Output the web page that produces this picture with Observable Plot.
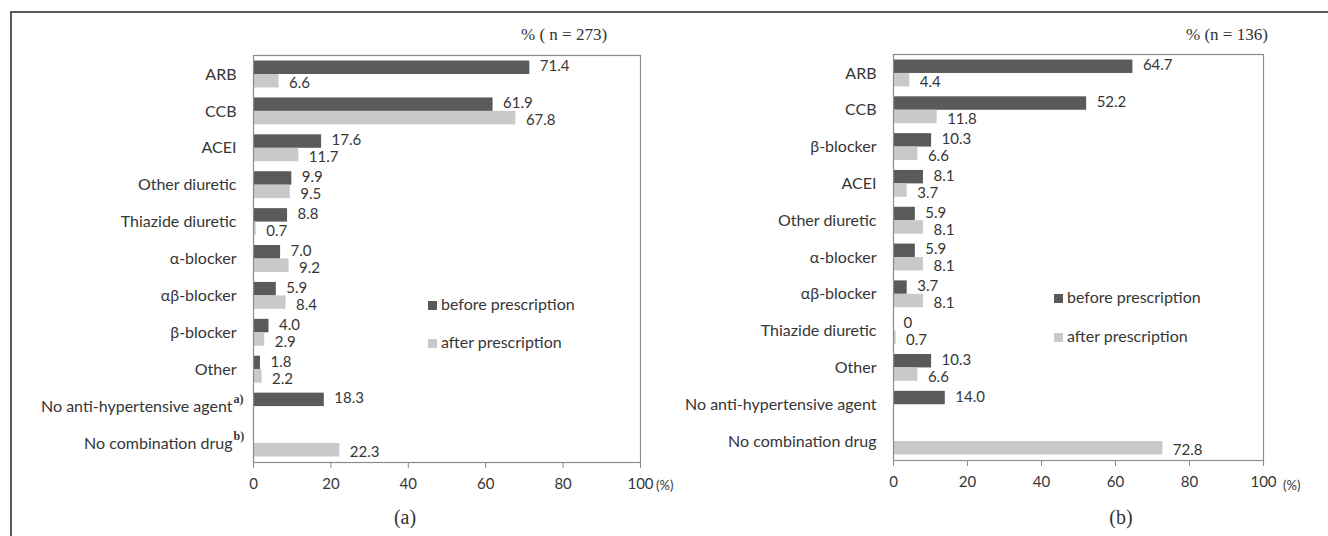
<!DOCTYPE html>
<html><head><meta charset="utf-8">
<script src="https://cdn.jsdelivr.net/npm/d3@7"></script>
<script src="https://cdn.jsdelivr.net/npm/@observablehq/plot@0.6"></script>
<style>
body{margin:0;background:#fff;}
#root{position:relative;width:1328px;height:536px;overflow:hidden;background:#fff;color:#363636;font-family:Lato,"Open Sans",sans-serif;}
.border{position:absolute;left:10px;top:11px;width:1400px;height:600px;border-left:2px solid #5a5a5a;border-top:2px solid #5a5a5a;}
.plot{position:absolute;top:0;}
.abs{position:absolute;white-space:nowrap;line-height:1;}
.serif{font-family:"Liberation Serif","DejaVu Serif",serif;color:#333;}
.sq{position:absolute;width:9px;height:9px;}
</style></head>
<body><div id="root"><div class="border"></div></div>
<script>
// ---- data ----
const catsA = ["ARB","CCB","ACEI","Other diuretic","Thiazide diuretic","α-blocker","αβ-blocker","β-blocker","Other","No anti-hypertensive agent","No combination drug"];
const beforeA = [71.4,61.9,17.6,9.9,8.8,7.0,5.9,4.0,1.8,18.3,null];
const afterA  = [6.6,67.8,11.7,9.5,0.7,9.2,8.4,2.9,2.2,null,22.3];
const supA = {"No anti-hypertensive agent":"a)","No combination drug":"b)"};

const catsB = ["ARB","CCB","β-blocker","ACEI","Other diuretic","α-blocker","αβ-blocker","Thiazide diuretic","Other","No anti-hypertensive agent","No combination drug"];
const beforeB = [64.7,52.2,10.3,8.1,5.9,5.9,3.7,0,10.3,14.0,null];
const afterB  = [4.4,11.8,6.6,3.7,8.1,8.1,8.1,0.7,6.6,null,72.8];

const xTicks = [0,20,40,60,80,100];
const seriesNames = ["before prescription","after prescription"];
const colors = ["#5a5a5a","#c9c9c9"];
const titleA = "% ( n = 273)", titleB = "% (n = 136)";

const fmt = v => v === 0 ? "0" : v.toFixed(1);
const root = document.getElementById("root");

function panel(cats, before, after, sup, opt){
  const H = 536, n = cats.length;
  const pi = 0.27, po = 0.15;
  const inner = H - opt.mt - opt.mb;
  const s = inner / (n - pi + 2*po);
  const r0 = opt.mt + po*s - pi*s;
  const r1 = r0 + s*(n + pi);
  const bw = s*(1-pi);
  const dB = cats.map((c,i)=>({category:c, value:before[i]})).filter(d=>d.value!=null);
  const dA = cats.map((c,i)=>({category:c, value:after[i]})).filter(d=>d.value!=null);
  const svg = Plot.plot({
    width: 664, height: H,
    marginLeft: opt.ml, marginRight: opt.mr, marginTop: opt.mt, marginBottom: opt.mb,
    style:{fontFamily:"Lato, 'Open Sans', sans-serif", fontSize:"15px", color:"#363636", background:"transparent"},
    x:{domain:[0,100]},
    y:{domain:cats, padding:pi, range:[r0, r1], round:false},
    marks:[
      Plot.barX(dB,{x:"value", y:"category", fill:colors[0], insetBottom:bw/2}),
      Plot.barX(dA,{x:"value", y:"category", fill:colors[1], insetTop:bw/2}),
      Plot.frame({stroke:"#8c8c8c", strokeWidth:1.2}),
      Plot.text(dB,{x:"value", y:"category", text:d=>fmt(d.value), dx:10, dy:-8, textAnchor:"start", fontSize:15, fill:"#363636"}),
      Plot.text(dA,{x:"value", y:"category", text:d=>fmt(d.value), dx:10, dy:9, textAnchor:"start", fontSize:15, fill:"#363636"}),
      Plot.axisY({tickSize:0, tickPadding:17, label:null, fontSize:16}),
      Plot.axisX({ticks:xTicks, tickSize:6, tickPadding:10, label:null, fontSize:15, stroke:"#8c8c8c"})
    ]
  });
  svg.classList.add("plot");
  svg.style.left = opt.left + "px";
  root.appendChild(svg);
  // superscripts
  d3.select(svg).selectAll('g[aria-label="y-axis tick label"] text').each(function(){
    const t = this.textContent;
    if (sup[t]) {
      this.setAttribute("dx", "-4");
      const s = document.createElementNS("http://www.w3.org/2000/svg","text");
      s.setAttribute("transform", this.getAttribute("transform"));
      s.setAttribute("text-anchor","start");
      s.setAttribute("dx","-3");
      s.setAttribute("dy","-0.3em");
      s.setAttribute("font-family","Liberation Serif, serif");
      s.setAttribute("font-size","12");
      s.setAttribute("font-weight","bold");
      s.textContent = sup[t];
      this.parentNode.appendChild(s);
    }
  });
}

panel(catsA, beforeA, afterA, supA, {left:0, ml:253, mr:24, mt:55, mb:74});
panel(catsB, beforeB, afterB, {}, {left:664, ml:229, mr:65, mt:54, mb:76});

function addText(txt, cls, x, cy, size, anchor){
  const d = document.createElement("div");
  d.className = "abs " + cls;
  d.textContent = txt;
  d.style.fontSize = size + "px";
  d.style.top = (cy - size*0.55) + "px";
  d.style.left = x + "px";
  if (anchor === "middle") d.style.transform = "translateX(-50%)";
  root.appendChild(d);
  return d;
}
addText(titleA, "serif", 521, 35, 17);
addText(titleB, "serif", 1186, 35, 17);
addText("(a)", "serif", 405, 518, 20, "middle");
addText("(b)", "serif", 1121, 518, 20, "middle");
addText("(%)", "", 656, 486, 13);
addText("(%)", "", 1283, 486, 13);

function legend(x, ys){
  seriesNames.forEach((n,i)=>{
    const sq = document.createElement("div");
    sq.className = "sq";
    sq.style.left = x + "px";
    sq.style.top = (ys[i]-4.5) + "px";
    sq.style.background = colors[i];
    root.appendChild(sq);
    addText(n, "", x+13, ys[i], 16);
  });
}
legend(428, [305, 343]);
legend(1054, [298, 337]);
</script></body></html>
